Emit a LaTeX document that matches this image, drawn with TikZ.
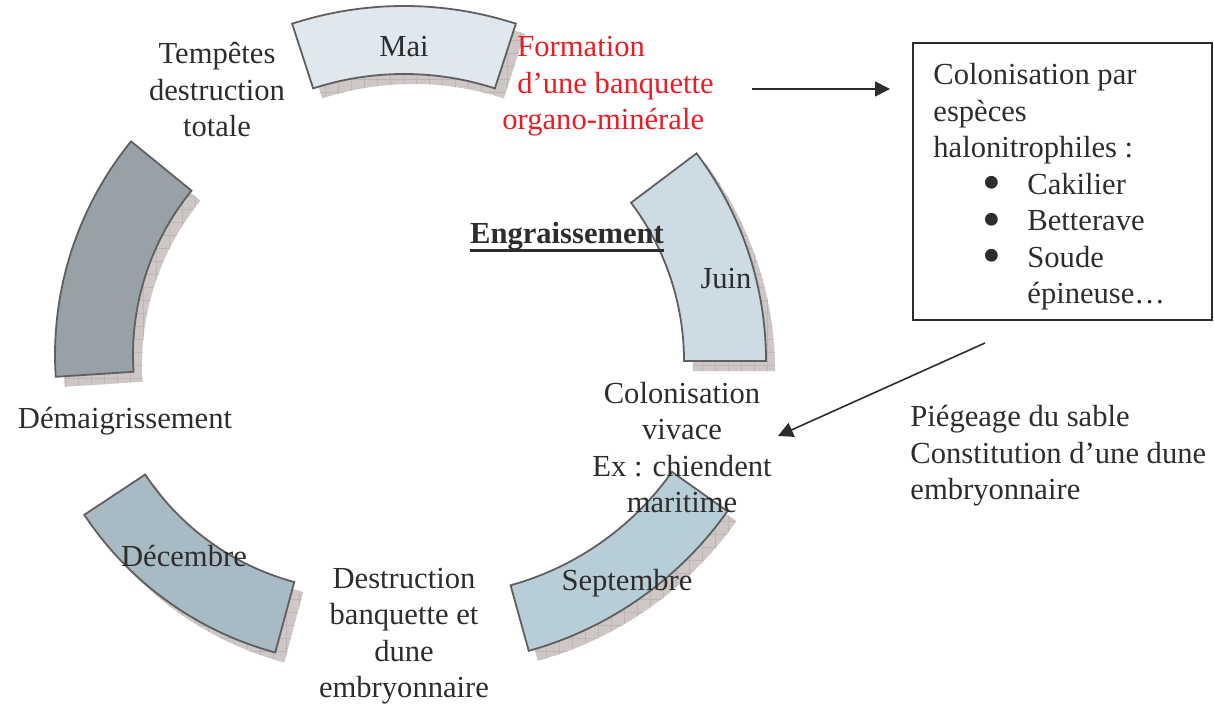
\documentclass[tikz,border=0pt]{standalone}
\usepackage{fontspec}
\setmainfont{Liberation Serif}
\usepackage{xcolor}
\usepackage{tikz}
\usetikzlibrary{arrows.meta, calc}
\definecolor{txtgray}{RGB}{45,45,45}
\definecolor{redtxt}{RGB}{235,28,36}
\definecolor{edgegray}{RGB}{95,95,95}
\definecolor{shadowgray}{RGB}{206,199,197}
\definecolor{gridgray}{RGB}{190,181,181}
\definecolor{maifill}{RGB}{223,232,238}
\definecolor{juinfill}{RGB}{205,220,228}
\definecolor{septfill}{RGB}{183,206,216}
\definecolor{decfill}{RGB}{168,186,195}
\definecolor{tempfill}{RGB}{152,161,168}

% block arc: cx, cy, start, end, inner r, outer r, fill
\newcommand{\blockarc}[7]{%
  \begin{scope}
    \clip ($(#1,#2)+(9,-10)+(#3:#6)$) arc[start angle=#3, end angle=#4, radius=#6]
      -- ($(#1,#2)+(9,-10)+(#4:#5)$) arc[start angle=#4, end angle=#3, radius=#5] -- cycle;
    \fill[shadowgray] (#1-400,#2-400) rectangle (#1+400,#2+400);
    \draw[gridgray, line width=0.25pt, step=13] (#1-400,#2-400) grid (#1+400,#2+400);
  \end{scope}
  \draw[segline, fill=#7] ($(#1,#2)+(#3:#6)$) arc[start angle=#3, end angle=#4, radius=#6]
    -- ($(#1,#2)+(#4:#5)$) arc[start angle=#4, end angle=#3, radius=#5] -- cycle;
}
\newcommand{\blt}{\smash{\raisebox{-3.2pt}{\scalebox{1.75}{\textbullet}}}}

\begin{document}
\begin{tikzpicture}[
  x=0.5pt, y=0.5pt,
  lbl/.style={font=\fontsize{15.3pt}{18.25pt}\selectfont, text=txtgray, inner sep=0pt, align=center},
  segline/.style={draw=edgegray, line width=0.9pt, line join=miter},
  arrow/.style={-{Triangle[length=7.5pt, width=7.5pt]}, line width=0.8pt, draw=txtgray, fill=txtgray}
]
\useasboundingbox (0,0) rectangle (1214,703);

% the five months
\blockarc{404}{335}{72}{108}{294}{362}{maifill}
\blockarc{421}{342}{0}{37}{263}{345}{juinfill}
\blockarc{432}{401}{-74.5}{-35.3}{294}{362}{septfill}
\blockarc{362}{372}{-146.5}{-105.1}{260}{333}{decfill}
\blockarc{393}{348}{140.8}{183.7}{260}{338}{tempfill}

% labels
\node[lbl] (mai) at (404,656) {Mai};
\node[lbl] (juin) at (726,424) {Juin};
\node[lbl] (sept) at (627,120) {Septembre};
\node[lbl] (dec) at (184,147) {Décembre};
\node[lbl] (tempetes) at (217,613) {Tempêtes\\destruction\\totale};
\node[lbl, text=redtxt, align=left, anchor=north west] (formation) at (502,667)
  {\hspace*{7.5pt}Formation\\\hspace*{7.5pt}d’une banquette\\organo-minérale};
\node[lbl, font=\fontsize{15.3pt}{18.25pt}\selectfont\bfseries] (engr) at (567,467) {Engraissement};
\draw[txtgray, line width=1.4pt] (engr.south west) -- (engr.south east);
\node[lbl] (vivace) at (682,255.5) {Colonisation\\vivace\\Ex : chiendent\\maritime};
\node[lbl, align=left, anchor=west] (piegeage) at (910,247)
  {Piégeage du sable\\Constitution d’une dune\\embryonnaire};
\node[lbl] (demaig) at (125,282) {Démaigrissement};
\node[lbl] (destr) at (404,67) {Destruction\\banquette et\\dune\\embryonnaire};

% species box
\draw[draw=txtgray, line width=1pt] (913,660) rectangle (1212,383);
\node[lbl, align=left, anchor=north west] (especes) at (933,640)
  {Colonisation par\\espèces\\halonitrophiles :\\
   \hspace*{24.5pt}\makebox[22.5pt][l]{\blt}Cakilier\\
   \hspace*{24.5pt}\makebox[22.5pt][l]{\blt}Betterave\\
   \hspace*{24.5pt}\makebox[22.5pt][l]{\blt}Soude\\
   \hspace*{47pt}épineuse…};

% arrows
\coordinate (a1s) at (752,614);
\coordinate (a1e) at (890,614);
\coordinate (a2s) at (985,360);
\coordinate (a2e) at (778,267);
\draw[arrow] (a1s) -- (a1e);
\draw[arrow] (a2s) -- (a2e);

\end{tikzpicture}
\end{document}
